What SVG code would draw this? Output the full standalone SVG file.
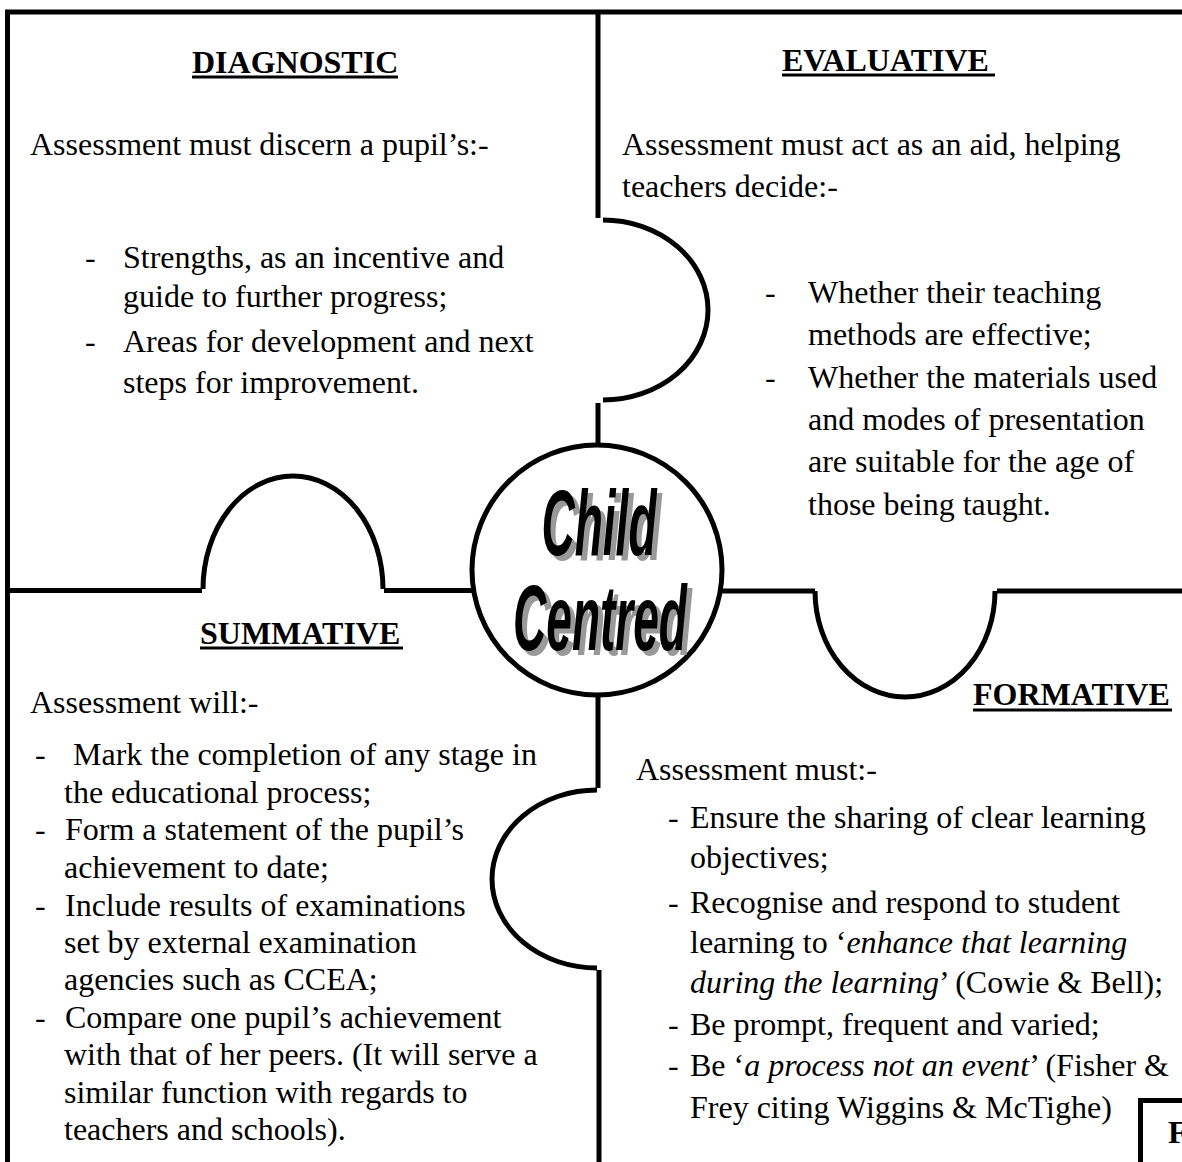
<svg xmlns="http://www.w3.org/2000/svg" width="1182" height="1162" viewBox="0 0 1182 1162">
  <style>
    .t { font-family: "Liberation Serif", "Times New Roman", serif; font-size: 32px; fill: #000; }
    .h { font-family: "Liberation Serif", "Times New Roman", serif; font-size: 32px; font-weight: bold; fill: #000; }
    .i { font-style: italic; }
    .ul { stroke: #000; stroke-width: 3; }
    .edge { fill: none; stroke: #000; stroke-width: 5; }
    .cc { font-family: "Liberation Sans", Arial, sans-serif; font-size: 92px; font-weight: bold; font-style: italic; text-anchor: middle; }
  </style>
  <rect width="1182" height="1162" fill="#fff"/>

  <!-- quadrant boundaries with puzzle tabs -->
  <g id="connectors">
    <path class="edge" d="M7.5 1162 V12 H1182"/>
    <!-- top divider, tab bulging right -->
    <path class="edge" d="M598 12 V218"/>
    <path class="edge" d="M603 220 A105 90 0 0 1 603 400"/>
    <path class="edge" d="M598 403 V446"/>
    <!-- left divider, tab bulging up -->
    <path class="edge" d="M7 590.5 H202"/>
    <path class="edge" d="M203 589 A90 113 0 0 1 383 589"/>
    <path class="edge" d="M384 590.5 H474"/>
    <!-- right divider, tab bulging down -->
    <path class="edge" d="M720 591 H815"/>
    <path class="edge" d="M815 591 A90 106 0 0 0 995 591"/>
    <path class="edge" d="M997 591 H1182"/>
    <!-- bottom divider, tab bulging left -->
    <path class="edge" d="M598 694 V788"/>
    <path class="edge" d="M597 790 A105 89 0 0 0 597 968"/>
    <path class="edge" d="M599 970 V1162"/>
  </g>

  <!-- centre hub -->
  <g id="child-centred">
    <circle cx="597" cy="570" r="125" fill="#fff" stroke="#000" stroke-width="5"/>
    <g transform="translate(604,560) scale(0.5,1)"><text class="cc" fill="#999">Child</text></g>
    <g transform="translate(599,555) scale(0.5,1)"><text class="cc" fill="#000">Child</text></g>
    <g transform="translate(605,655) scale(0.5,1)"><text class="cc" fill="#999">Centred</text></g>
    <g transform="translate(600,650) scale(0.5,1)"><text class="cc" fill="#000">Centred</text></g>
  </g>

  <g id="diagnostic">
    <text class="h" x="192" y="73">DIAGNOSTIC</text>
    <line class="ul" x1="192" y1="77" x2="398" y2="77"/>
    <text class="t" x="30" y="155">Assessment must discern a pupil’s:-</text>
    <text class="t" x="85" y="268">-</text>
    <text class="t" x="123" y="268">Strengths, as an incentive and</text>
    <text class="t" x="123" y="307">guide to further progress;</text>
    <text class="t" x="85" y="352">-</text>
    <text class="t" x="123" y="352">Areas for development and next</text>
    <text class="t" x="123" y="393">steps for improvement.</text>
  </g>

  <g id="evaluative">
    <text class="h" x="782" y="71">EVALUATIVE</text>
    <line class="ul" x1="782" y1="75" x2="995" y2="75"/>
    <text class="t" x="622" y="155">Assessment must act as an aid, helping</text>
    <text class="t" x="622" y="197">teachers decide:-</text>
    <text class="t" x="765" y="303">-</text>
    <text class="t" x="808" y="303">Whether their teaching</text>
    <text class="t" x="808" y="345">methods are effective;</text>
    <text class="t" x="765" y="388">-</text>
    <text class="t" x="808" y="388">Whether the materials used</text>
    <text class="t" x="808" y="430">and modes of presentation</text>
    <text class="t" x="808" y="472">are suitable for the age of</text>
    <text class="t" x="808" y="515">those being taught.</text>
  </g>

  <g id="summative">
    <text class="h" x="200" y="644">SUMMATIVE</text>
    <line class="ul" x1="200" y1="648" x2="403" y2="648"/>
    <text class="t" x="30" y="713">Assessment will:-</text>
    <text class="t" x="35" y="765">-</text>
    <text class="t" x="73" y="765">Mark the completion of any stage in</text>
    <text class="t" x="64" y="803">the educational process;</text>
    <text class="t" x="35" y="840">-</text>
    <text class="t" x="65" y="840">Form a statement of the pupil’s</text>
    <text class="t" x="64" y="878">achievement to date;</text>
    <text class="t" x="35" y="916">-</text>
    <text class="t" x="65" y="916">Include results of examinations</text>
    <text class="t" x="64" y="953">set by external examination</text>
    <text class="t" x="64" y="990">agencies such as CCEA;</text>
    <text class="t" x="35" y="1028">-</text>
    <text class="t" x="65" y="1028">Compare one pupil’s achievement</text>
    <text class="t" x="64" y="1065">with that of her peers. (It will serve a</text>
    <text class="t" x="64" y="1103">similar function with regards to</text>
    <text class="t" x="64" y="1140">teachers and schools).</text>
  </g>

  <g id="formative">
    <text class="h" x="973" y="705">FORMATIVE</text>
    <line class="ul" x1="973" y1="710" x2="1172" y2="710"/>
    <text class="t" x="636" y="780">Assessment must:-</text>
    <text class="t" x="668" y="828">-</text>
    <text class="t" x="690" y="828">Ensure the sharing of clear learning</text>
    <text class="t" x="690" y="868">objectives;</text>
    <text class="t" x="668" y="913">-</text>
    <text class="t" x="690" y="913">Recognise and respond to student</text>
    <text class="t" x="690" y="953">learning to ‘<tspan class="i">enhance that learning</tspan></text>
    <text class="t" x="690" y="993"><tspan class="i">during the learning</tspan>’ (Cowie &amp; Bell);</text>
    <text class="t" x="668" y="1035">-</text>
    <text class="t" x="690" y="1035">Be prompt, frequent and varied;</text>
    <text class="t" x="668" y="1076">-</text>
    <text class="t" x="690" y="1076">Be ‘<tspan class="i">a process not an event</tspan>’ (Fisher &amp;</text>
    <text class="t" x="690" y="1118">Frey citing Wiggins &amp; McTighe)</text>
  </g>

  <g id="f-box">
    <rect x="1140.5" y="1100.5" width="60" height="80" fill="#fff" stroke="#000" stroke-width="5"/>
    <text class="h" x="1168" y="1143">F</text>
  </g>
</svg>
